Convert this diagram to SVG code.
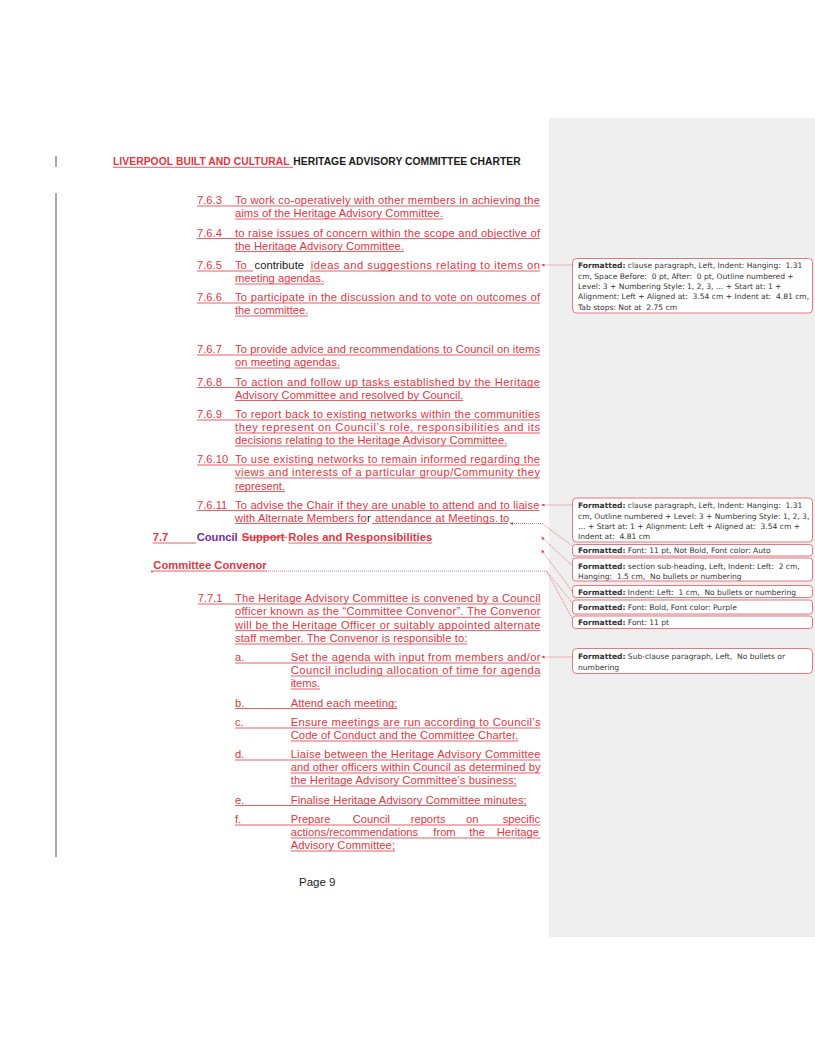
<svg xmlns="http://www.w3.org/2000/svg" width="815" height="1055" viewBox="0 0 815 1055">
<defs>
<style>
.t{font-family:"Liberation Sans",Arial,sans-serif;font-size:11.2px;fill:#e3363f}
.b{font-weight:bold}
.k{fill:#1a1a1a}
.p{fill:#7030a0}
.u{stroke:#e3363f;stroke-width:0.8;fill:none}
.c{font-family:"DejaVu Sans",Verdana,sans-serif;font-size:7.55px;fill:#333;white-space:pre}
.box{fill:#fff;stroke:#e57780;stroke-width:1}
.cn{stroke:#e2505b;stroke-width:0.8;stroke-dasharray:1 1;fill:none}
.bar{fill:#a9a9a9}
</style>
<marker id="ar" viewBox="0 0 4 4" refX="0" refY="2" markerWidth="3.5" markerHeight="3" markerUnits="userSpaceOnUse" orient="auto"><path d="M4,0 L0,2 L4,4 z" fill="#e3363f"/></marker>
</defs>
<rect x="0" y="0" width="815" height="1055" fill="#fff"/>
<rect x="549" y="118" width="266" height="819" fill="#efefef"/>
<rect class="bar" x="55" y="156" width="2" height="11"/>
<rect class="bar" x="55" y="193" width="2" height="664"/>

<g id="header">
<text class="t b" x="113" y="165" style="font-size:10.3px" textLength="176.5">LIVERPOOL BUILT AND CULTURAL</text>
<text class="t b k" x="293.3" y="165" style="font-size:10.3px" textLength="227.4">HERITAGE ADVISORY COMMITTEE CHARTER</text>
<path class="u" d="M113 167.3H293"/>
</g>

<g id="p763">
<text class="t" x="197" y="204">7.6.3</text>
<text class="t" x="235" y="204" textLength="305">To work co-operatively with other members in achieving the</text>
<text class="t" x="235" y="217" textLength="208">aims of the Heritage Advisory Committee.</text>
<path class="u" d="M197 206H540M235 219H443"/>
</g>
<g id="p764">
<text class="t" x="197" y="236.5">7.6.4</text>
<text class="t" x="235" y="236.5" textLength="305">to raise issues of concern within the scope and objective of</text>
<text class="t" x="235" y="249.5" textLength="169">the Heritage Advisory Committee.</text>
<path class="u" d="M197 238.5H540M235 251.5H404"/>
</g>
<g id="p765">
<text class="t" x="197" y="269">7.6.5</text>
<text class="t" x="235" y="269">To</text>
<text class="t k" x="254.5" y="269" textLength="49.5">contribute</text>
<text class="t" x="310.7" y="269" textLength="229.3">ideas and suggestions relating to items on</text>
<text class="t" x="235" y="282" textLength="89">meeting agendas.</text>
<path class="u" d="M197 271H253M310 271H540M235 284H324"/>
</g>
<g id="p766">
<text class="t" x="197" y="301">7.6.6</text>
<text class="t" x="235" y="301" textLength="305">To participate in the discussion and to vote on outcomes of</text>
<text class="t" x="235" y="314" textLength="73.3">the committee.</text>
<path class="u" d="M197 303H540M235 316H308.3"/>
</g>
<g id="p767">
<text class="t" x="197" y="353">7.6.7</text>
<text class="t" x="235" y="353" textLength="305">To provide advice and recommendations to Council on items</text>
<text class="t" x="235" y="366" textLength="105">on meeting agendas.</text>
<path class="u" d="M197 355H540M235 368H340"/>
</g>
<g id="p768">
<text class="t" x="197" y="385.5">7.6.8</text>
<text class="t" x="235" y="385.5" textLength="305">To action and follow up tasks established by the Heritage</text>
<text class="t" x="235" y="398.5" textLength="228.3">Advisory Committee and resolved by Council.</text>
<path class="u" d="M197 387.5H540M235 400.5H463.3"/>
</g>
<g id="p769">
<text class="t" x="197" y="418">7.6.9</text>
<text class="t" x="235" y="418" textLength="305">To report back to existing networks within the communities</text>
<text class="t" x="235" y="431" textLength="305">they represent on Council’s role, responsibilities and its</text>
<text class="t" x="235" y="444" textLength="272.3">decisions relating to the Heritage Advisory Committee.</text>
<path class="u" d="M197 420H540M235 433H540M235 446H507.3"/>
</g>
<g id="p7610">
<text class="t" x="197" y="463">7.6.10</text>
<text class="t" x="235" y="463" textLength="305">To use existing networks to remain informed regarding the</text>
<text class="t" x="235" y="476" textLength="305">views and interests of a particular group/Community they</text>
<text class="t" x="235" y="489.5" textLength="50">represent.</text>
<path class="u" d="M197 465H540M235 478H540M235 491.5H285"/>
</g>
<g id="p7611">
<text class="t" x="197" y="508.5">7.6.11</text>
<text class="t" x="235" y="508.5" textLength="304.5">To advise the Chair if they are unable to attend and to liaise</text>
<text class="t" x="235" y="521.5" textLength="131.7">with Alternate Members fo</text>
<text class="t k" x="367" y="521.5">r</text>
<text class="t" x="375" y="521.5" textLength="123">attendance at Meetings.</text>
<text class="t" x="500" y="521.5">to</text>
<path class="u" d="M197 510.5H539.5M235 523.5H366.5M372 523.5H507.5"/>
</g>
<g id="h77">
<text class="t b" x="152.7" y="541">7.7</text>
<text class="t b p" x="196.7" y="541">Council</text>
<text class="t b" x="241.7" y="541">Support</text>
<text class="t b" x="288.3" y="541" textLength="144">Roles and Responsibilities</text>
<path class="u" d="M152.7 543H196M288.3 543H432.3M241.7 537.3H287.3"/>
</g>
<g id="hconvenor">
<text class="t b" x="153.3" y="569" textLength="113.4">Committee Convenor</text>
<path class="u" d="M153 571H267"/>
<circle cx="152" cy="571.5" r="1" fill="#e3363f"/>
</g>
<g id="p771">
<text class="t" x="197.7" y="602">7.7.1</text>
<text class="t" x="235" y="602" textLength="305.5">The Heritage Advisory Committee is convened by a Council</text>
<text class="t" x="235" y="615.3" textLength="305.5">officer known as the “Committee Convenor”. The Convenor</text>
<text class="t" x="235" y="628.6" textLength="305.5">will be the Heritage Officer or suitably appointed alternate</text>
<text class="t" x="235" y="642" textLength="232.3">staff member. The Convenor is responsible to:</text>
<path class="u" d="M197.7 604H540.5M235 617.3H540.5M235 630.6H540.5M235 644H467.3"/>
</g>
<g id="pa">
<text class="t" x="235" y="661">a.</text>
<text class="t" x="290.7" y="661" textLength="249.8">Set the agenda with input from members and/or</text>
<text class="t" x="290.7" y="674" textLength="249.8">Council including allocation of time for agenda</text>
<text class="t" x="290.7" y="687" textLength="29.3">items.</text>
<path class="u" d="M235 663H540.5M290.7 676H540.5M290.7 689H320"/>
</g>
<g id="pb">
<text class="t" x="235" y="706.5">b.</text>
<text class="t" x="290.7" y="706.5" textLength="106.6">Attend each meeting;</text>
<path class="u" d="M235 708.5H397.3"/>
</g>
<g id="pc">
<text class="t" x="235" y="726">c.</text>
<text class="t" x="290.7" y="726" textLength="249.8">Ensure meetings are run according to Council’s</text>
<text class="t" x="290.7" y="739" textLength="227.6">Code of Conduct and the Committee Charter.</text>
<path class="u" d="M235 728H540.5M290.7 741H518.3"/>
</g>
<g id="pd">
<text class="t" x="235" y="758">d.</text>
<text class="t" x="290.7" y="758" textLength="249.8">Liaise between the Heritage Advisory Committee</text>
<text class="t" x="290.7" y="771" textLength="249.8">and other officers within Council as determined by</text>
<text class="t" x="290.7" y="784" textLength="226">the Heritage Advisory Committee’s business;</text>
<path class="u" d="M235 760H540.5M290.7 773H540.5M290.7 786H516.7"/>
</g>
<g id="pe">
<text class="t" x="235" y="803.5">e.</text>
<text class="t" x="290.7" y="803.5" textLength="236">Finalise Heritage Advisory Committee minutes;</text>
<path class="u" d="M235 805.5H526.7"/>
</g>
<g id="pf">
<text class="t" x="235" y="823">f.</text>
<text class="t" y="823"><tspan x="290.7">Prepare</tspan><tspan x="352.7">Council</tspan><tspan x="410.7">reports</tspan><tspan x="466">on</tspan><tspan x="502.7">specific</tspan></text>
<text class="t" y="836"><tspan x="290.7">actions/recommendations</tspan><tspan x="433.3">from</tspan><tspan x="469.3">the</tspan><tspan x="496.7">Heritage</tspan></text>
<text class="t" x="290.7" y="849" textLength="104.3">Advisory Committee;</text>
<path class="u" d="M235 825H540.5M290.7 838H540.5M290.7 851H395"/>
</g>
<g id="footer">
<text class="t k" x="299" y="885.5" style="font-size:11.5px">Page 9</text>
</g>

<g id="connectors">
<path class="cn" marker-start="url(#ar)" d="M541.5 265H572.5"/>
<path class="cn" marker-start="url(#ar)" d="M541.5 505H572.5"/>
<path class="cn" marker-start="url(#ar)" d="M510 523.5H542L572.5 546"/>
<path class="cn" marker-start="url(#ar)" d="M541.5 537L572.5 566"/>
<path class="cn" marker-start="url(#ar)" d="M541.5 550L572.5 591.5"/>
<path class="cn" d="M268 571H546.5L572.5 603M546.5 571L572.5 619"/>
<path class="cn" marker-start="url(#ar)" d="M541.5 657H572.5"/>
</g>

<g id="cmt1">
<rect class="box" x="572.5" y="258.5" width="240" height="54.5" rx="4"/>
<text class="c" x="578" y="268.3"><tspan class="b">Formatted:</tspan> clause paragraph, Left, Indent: Hanging:  1.31</text>
<text class="c" x="578" y="278.6">cm, Space Before:  0 pt, After:  0 pt, Outline numbered +</text>
<text class="c" x="578" y="289">Level: 3 + Numbering Style: 1, 2, 3, … + Start at: 1 +</text>
<text class="c" x="578" y="299.3">Alignment: Left + Aligned at:  3.54 cm + Indent at:  4.81 cm,</text>
<text class="c" x="578" y="309.6">Tab stops: Not at  2.75 cm</text>
</g>
<g id="cmt2">
<rect class="box" x="572.5" y="498" width="240" height="44" rx="4"/>
<text class="c" x="578" y="508.4"><tspan class="b">Formatted:</tspan> clause paragraph, Left, Indent: Hanging:  1.31</text>
<text class="c" x="578" y="518.6">cm, Outline numbered + Level: 3 + Numbering Style: 1, 2, 3,</text>
<text class="c" x="578" y="528.8">… + Start at: 1 + Alignment: Left + Aligned at:  3.54 cm +</text>
<text class="c" x="578" y="539">Indent at:  4.81 cm</text>
</g>
<g id="cmt3">
<rect class="box" x="572.5" y="544.5" width="240" height="11.5" rx="3"/>
<text class="c" x="578" y="553"><tspan class="b">Formatted:</tspan> Font: 11 pt, Not Bold, Font color: Auto</text>
</g>
<g id="cmt4">
<rect class="box" x="572.5" y="558" width="240" height="23" rx="3"/>
<text class="c" x="578" y="568.7"><tspan class="b">Formatted:</tspan> section sub-heading, Left, Indent: Left:  2 cm,</text>
<text class="c" x="578" y="578.9">Hanging:  1.5 cm,  No bullets or numbering</text>
</g>
<g id="cmt5">
<rect class="box" x="572.5" y="585.5" width="240" height="12" rx="3"/>
<text class="c" x="578" y="594.7"><tspan class="b">Formatted:</tspan> Indent: Left:  1 cm,  No bullets or numbering</text>
</g>
<g id="cmt6">
<rect class="box" x="572.5" y="600" width="240" height="14" rx="3"/>
<text class="c" x="578" y="610.4"><tspan class="b">Formatted:</tspan> Font: Bold, Font color: Purple</text>
</g>
<g id="cmt7">
<rect class="box" x="572.5" y="616" width="240" height="12.5" rx="3"/>
<text class="c" x="578" y="625.4"><tspan class="b">Formatted:</tspan> Font: 11 pt</text>
</g>
<g id="cmt8">
<rect class="box" x="572.5" y="648.5" width="240" height="25" rx="4"/>
<text class="c" x="578" y="659.4"><tspan class="b">Formatted:</tspan> Sub-clause paragraph, Left,  No bullets or</text>
<text class="c" x="578" y="669.6">numbering</text>
</g>
</svg>
